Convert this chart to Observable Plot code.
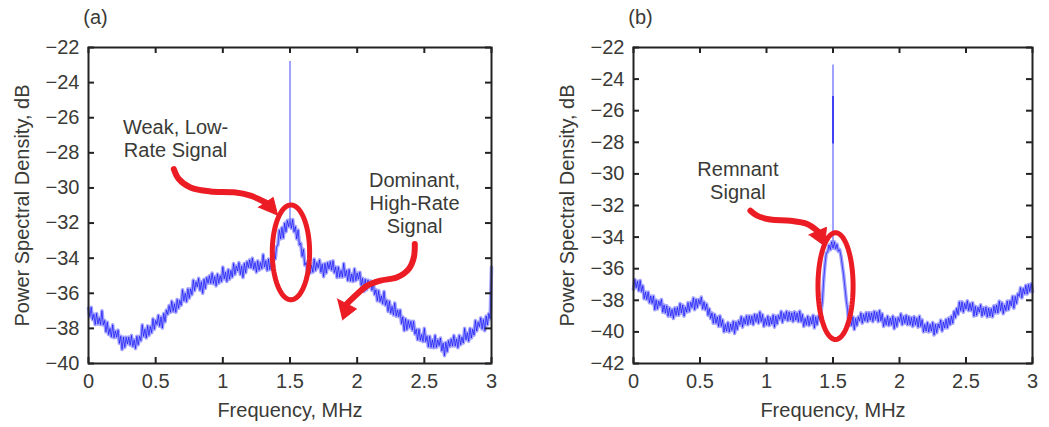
<!DOCTYPE html>
<html><head><meta charset="utf-8">
<script src="https://cdn.jsdelivr.net/npm/d3@7"></script>
<script src="https://cdn.jsdelivr.net/npm/@observablehq/plot@0.6"></script>
<style>
body{margin:0;background:#fff;}
#wrap{position:relative;width:1049px;height:427px;overflow:hidden;background:#fff;}
#pa{position:absolute;left:0;top:0;}
#pb{position:absolute;left:520px;top:0;}
</style></head><body><div id="wrap"><div id="pa"></div><div id="pb"></div></div>
<script>
// ---- data ----
const freqStep = 0.01; // MHz between samples, 0 .. 3
const xTicks = [0, 0.5, 1, 1.5, 2, 2.5, 3];
const yTicksA = [-40, -38, -36, -34, -32, -30, -28, -26, -24, -22];
const yTicksB = [-42, -40, -38, -36, -34, -32, -30, -28, -26, -24, -22];

const psdA = [
-36.85,-37.33,-36.8,-37.5,-37.2,-37.78,-37.15,-37.75,-37.4,-37.78,
-37.0,-37.8,-37.55,-38.2,-37.65,-38.35,-38.0,-38.48,-37.8,-38.53,
-38.15,-38.5,-38.1,-38.85,-38.45,-39.2,-38.5,-39.08,-38.5,-38.88,
-38.5,-38.95,-38.4,-39.03,-38.65,-39.15,-38.45,-38.93,-38.45,-38.7,
-37.8,-38.45,-38.05,-38.55,-37.85,-38.4,-37.9,-38.25,-37.45,-38.05,
-37.55,-37.78,-37.25,-37.88,-37.35,-37.98,-37.15,-37.63,-36.95,-37.2,
-36.7,-37.08,-36.45,-37.03,-36.6,-37.08,-36.35,-36.85,-36.4,-36.68,
-35.8,-36.43,-36.0,-36.48,-35.75,-36.28,-35.75,-36.08,-35.25,-35.85,
-35.35,-35.63,-35.15,-35.83,-35.35,-36.0,-35.2,-35.73,-35.1,-35.43,
-35.0,-35.43,-34.85,-35.45,-35.05,-35.58,-34.9,-35.43,-35.0,-35.33,
-34.5,-35.18,-34.8,-35.33,-34.65,-35.2,-34.7,-35.08,-34.3,-34.93,
-34.45,-34.73,-34.25,-34.93,-34.45,-35.1,-34.3,-34.83,-34.2,-34.53,
-34.1,-34.55,-34.0,-34.63,-34.25,-34.8,-34.15,-34.68,-34.25,-34.6,
-33.8,-34.5,-34.15,-34.7,-34.05,-34.65,-34.2,-34.5,-33.65,-34.05,
-33.35,-33.25,-32.4,-32.9,-32.25,-32.85,-32.0,-32.5,-31.85,-32.2,
-31.8,-32.3,-31.8,-32.5,-32.2,-32.9,-32.4,-33.25,-33.15,-33.9,
-33.5,-34.4,-34.25,-34.85,-34.25,-34.85,-34.4,-34.8,-34.05,-34.7,
-34.25,-34.55,-34.1,-34.8,-34.35,-35.05,-34.3,-34.85,-34.25,-34.6,
-34.2,-34.68,-34.15,-34.83,-34.5,-35.1,-34.5,-35.08,-34.7,-35.08,
-34.3,-35.03,-34.7,-35.28,-34.65,-35.3,-34.9,-35.33,-34.6,-35.28,
-34.85,-35.2,-34.8,-35.55,-35.15,-35.9,-35.2,-35.8,-35.25,-35.65,
-35.3,-35.83,-35.35,-36.08,-35.8,-36.43,-35.85,-36.48,-36.15,-36.6,
-35.9,-36.68,-36.4,-37.03,-36.45,-37.13,-36.75,-37.23,-36.55,-37.3,
-36.95,-37.33,-36.95,-37.73,-37.35,-38.13,-37.45,-38.08,-37.55,-37.95,
-37.6,-38.1,-37.6,-38.33,-38.05,-38.65,-38.05,-38.68,-38.35,-38.75,
-38.0,-38.75,-38.45,-39.05,-38.45,-39.08,-38.65,-39.1,-38.4,-39.08,
-38.65,-38.98,-38.55,-39.28,-38.85,-39.55,-38.8,-39.33,-38.7,-39.03,
-38.6,-39.0,-38.4,-39.0,-38.6,-39.1,-38.4,-38.93,-38.5,-38.83,
-38.0,-38.65,-38.25,-38.73,-38.0,-38.55,-38.05,-38.38,-37.55,-38.15,
-37.65,-37.9,-37.4,-38.03,-37.5,-38.13,-37.3,-37.8,-37.15,-37.45,
-34.5
];
const psdB = [
-37.3,-36.68,-37.2,-36.8,-37.4,-36.75,-37.45,-37.08,-37.9,-37.48,
-37.95,-37.48,-38.15,-37.73,-38.2,-37.73,-38.6,-37.98,-38.55,-38.05,
-38.35,-37.95,-38.75,-38.3,-38.8,-38.35,-39.0,-38.48,-39.0,-38.58,
-39.15,-38.48,-38.95,-38.45,-38.95,-38.2,-38.8,-38.3,-39.0,-38.43,
-38.75,-38.15,-38.7,-38.13,-38.45,-37.85,-38.6,-37.93,-38.45,-37.95,
-38.25,-37.8,-38.55,-38.1,-38.6,-38.23,-38.95,-38.53,-39.15,-38.8,
-39.45,-38.88,-39.45,-39.05,-39.65,-38.98,-39.65,-39.23,-40.0,-39.53,
-39.95,-39.4,-40.0,-39.5,-39.9,-39.33,-40.1,-39.38,-39.85,-39.3,
-39.55,-39.03,-39.7,-39.13,-39.5,-38.98,-39.55,-38.98,-39.45,-39.0,
-39.55,-38.88,-39.35,-38.9,-39.45,-38.73,-39.35,-38.9,-39.65,-39.15,
-39.55,-39.0,-39.6,-39.1,-39.5,-38.93,-39.7,-39.0,-39.5,-38.95,
-39.2,-38.7,-39.4,-38.83,-39.2,-38.7,-39.3,-38.75,-39.25,-38.8,
-39.35,-38.73,-39.25,-38.8,-39.35,-38.68,-39.35,-38.9,-39.65,-39.15,
-39.55,-39.0,-39.6,-39.1,-39.5,-38.95,-39.75,-39.05,-39.55,-39.0,
-39.25,-38.7,-38.1,-36.7,-35.7,-35.0,-34.95,-34.5,-34.8,-34.3,
-34.7,-34.3,-34.75,-34.45,-34.9,-34.8,-35.2,-35.8,-36.4,-37.2,
-38.0,-38.6,-39.6,-39.15,-39.6,-39.05,-39.85,-39.15,-39.6,-39.05,
-39.3,-38.8,-39.45,-38.9,-39.3,-38.78,-39.35,-38.78,-39.25,-38.8,
-39.35,-38.7,-39.2,-38.75,-39.35,-38.65,-39.3,-38.85,-39.65,-39.15,
-39.55,-39.0,-39.6,-39.13,-39.55,-39.0,-39.8,-39.13,-39.65,-39.1,
-39.35,-38.85,-39.55,-39.03,-39.45,-38.95,-39.55,-39.03,-39.55,-39.1,
-39.65,-39.03,-39.55,-39.13,-39.7,-39.0,-39.65,-39.23,-40.0,-39.53,
-39.95,-39.4,-40.0,-39.53,-39.95,-39.4,-40.2,-39.53,-40.05,-39.5,
-39.75,-39.25,-39.95,-39.38,-39.75,-39.2,-39.75,-39.13,-39.55,-39.0,
-39.45,-38.7,-39.1,-38.5,-38.9,-38.1,-38.65,-38.1,-38.75,-38.2,
-38.55,-38.03,-38.65,-38.2,-38.65,-38.15,-39.0,-38.38,-38.95,-38.45,
-38.75,-38.28,-39.0,-38.48,-38.9,-38.43,-39.05,-38.5,-39.0,-38.53,
-39.05,-38.35,-38.8,-38.3,-38.8,-38.05,-38.65,-38.15,-38.85,-38.3,
-38.65,-38.05,-38.6,-38.03,-38.35,-37.75,-38.5,-37.75,-38.2,-37.58,
-37.75,-37.2,-37.85,-37.25,-37.6,-37.05,-37.6,-37.0,-37.45,-36.95,
-37.45
];
// carrier spike at 1.5 MHz
const spikeA = [{f: 1.5, base: -32.0, top: -22.8}];
const spikeB = [{f: 1.5, base: -34.5, top: -23.1}];
const spikeBDark = [{f: 1.5, base: -28.1, top: -25.1}];

// annotations (data coordinates)
const notesA = [
  {x: 0.648, y: -27.17, t: "Weak, Low-\nRate Signal"},
  {x: 2.427, y: -30.84, t: "Dominant,\nHigh-Rate\nSignal"}
];
const notesB = [{x: 0.785, y: -30.41, t: "Remnant\nSignal"}];
const shaftA1 = [[0.635,-28.92],[0.672,-29.49],[0.759,-29.97],[0.908,-30.20],[1.082,-30.25],[1.206,-30.44],[1.319,-30.83]];
const headA1 = [[1.263,-31.11],[1.375,-30.54],[1.409,-31.58]];
const shaftA2 = [[2.429,-33.19],[2.422,-33.95],[2.385,-34.61],[2.298,-35.09],[2.174,-35.28],[2.075,-35.56],[2.0,-36.04],[1.923,-36.60]];
const headA2 = [[1.851,-36.32],[1.995,-36.89],[1.889,-37.52]];
const shaftB1 = [[0.879,-32.33],[0.929,-32.64],[1.029,-32.89],[1.180,-32.96],[1.306,-33.17],[1.384,-33.62]];
const headB1 = [[1.318,-33.86],[1.451,-33.38],[1.436,-34.58]];
const ellA = {cx: 1.507, cy: -33.67, rx: 0.139, ry: 2.70};
const ellB = {cx: 1.519, cy: -37.10, rx: 0.132, ry: 3.38};

// ---- drawing ----
const RED = "#ec1c24", TXT = "#3a3a36", FRAME = "#222";
const FONT = "'Liberation Sans', Arial, Helvetica, sans-serif";
const H = 427, MT = 47, MB = 64;
const fmtY = d => d < 0 ? "\u2212" + Math.abs(d) : String(d);
const fmtX = d => String(d);

function panel({psd, yDomain, yTicks, tag, spike, spikeDark, notes, shafts, heads, ell, width, ml, mr}) {
  const data = psd.map((v, i) => ({f: +(i * freqStep).toFixed(3), v}));
  const ellPts = d3.range(0, 361, 4).map(a => ({x: ell.cx + ell.rx * Math.cos(a * Math.PI / 180), y: ell.cy + ell.ry * Math.sin(a * Math.PI / 180)}));
  const shaftPts = shafts.flatMap((s, k) => s.map(([x, y]) => ({x, y, k})));
  const headPts = heads.flatMap((s, k) => s.map(([x, y]) => ({x, y, k})));
  const W = width - ml - mr, IH = H - MT - MB;
  return Plot.plot({
    width, height: H, marginLeft: ml, marginRight: mr, marginTop: MT, marginBottom: MB,
    style: {fontFamily: FONT, fontSize: "20px", color: TXT, background: "#fff"},
    x: {domain: [0, 3], label: null},
    y: {domain: yDomain, label: null},
    marks: [
      Plot.line(data, {x: "f", y: "v", stroke: "#8484ff", strokeWidth: 3.6, strokeOpacity: 0.75}),
      Plot.line(data, {x: "f", y: "v", stroke: "#0000f5", strokeWidth: 0.6}),
      Plot.ruleX(spike, {x: "f", y1: "base", y2: "top", stroke: "#7a7aff", strokeWidth: 1.4}),
      spikeDark ? Plot.ruleX(spikeDark, {x: "f", y1: "base", y2: "top", stroke: "#0000ee", strokeWidth: 1.2}) : null,
      Plot.line(ellPts, {x: "x", y: "y", stroke: RED, strokeWidth: 5}),
      Plot.line(shaftPts, {x: "x", y: "y", z: "k", curve: "catmull-rom", stroke: RED, strokeWidth: 6, strokeLinecap: "round"}),
      Plot.line(headPts, {x: "x", y: "y", z: "k", fill: RED, stroke: RED, strokeWidth: 1}),
      Plot.text(notes, {x: "x", y: "y", text: "t", fontSize: 20, lineHeight: 1.15, fill: TXT}),
      Plot.frame({stroke: FRAME, strokeWidth: 2}),
      Plot.tickY(yTicks, {y: d => d, insetRight: W - 6, stroke: FRAME, strokeWidth: 2}),
      Plot.tickY(yTicks, {y: d => d, insetLeft: W - 6, stroke: FRAME, strokeWidth: 2}),
      Plot.tickX(xTicks, {x: d => d, insetTop: IH - 6, stroke: FRAME, strokeWidth: 2}),
      Plot.tickX(xTicks, {x: d => d, insetBottom: IH - 6, stroke: FRAME, strokeWidth: 2}),
      Plot.axisY(yTicks, {tickSize: 0, tickPadding: 9, tickFormat: fmtY, label: null, fontSize: 20}),
      Plot.axisX(xTicks, {tickSize: 0, tickPadding: 10, tickFormat: fmtX, label: null, fontSize: 20}),
      Plot.text(["Power Spectral Density, dB"], {text: d => d, frameAnchor: "left", rotate: -90, textAnchor: "middle", lineAnchor: "middle", dx: -66, fontSize: 20, fill: TXT}),
      Plot.text(["Frequency, MHz"], {text: d => d, frameAnchor: "bottom", lineAnchor: "middle", dy: 47, fontSize: 20, fill: TXT}),
      Plot.text([tag], {text: d => d, frameAnchor: "top-left", textAnchor: "middle", lineAnchor: "middle", dx: 7, dy: -30, fontSize: 20, fill: TXT})
    ]
  });
}

document.getElementById("pa").append(panel({
  psd: psdA, yDomain: [-40, -22], yTicks: yTicksA, tag: "(a)", spike: spikeA, spikeDark: null,
  notes: notesA, shafts: [shaftA1, shaftA2], heads: [headA1, headA2], ell: ellA,
  width: 520, ml: 88, mr: 29
}));
document.getElementById("pb").append(panel({
  psd: psdB, yDomain: [-42, -22], yTicks: yTicksB, tag: "(b)", spike: spikeB, spikeDark: spikeBDark,
  notes: notesB, shafts: [shaftB1], heads: [headB1], ell: ellB,
  width: 529, ml: 113, mr: 17
}));
</script></body></html>
